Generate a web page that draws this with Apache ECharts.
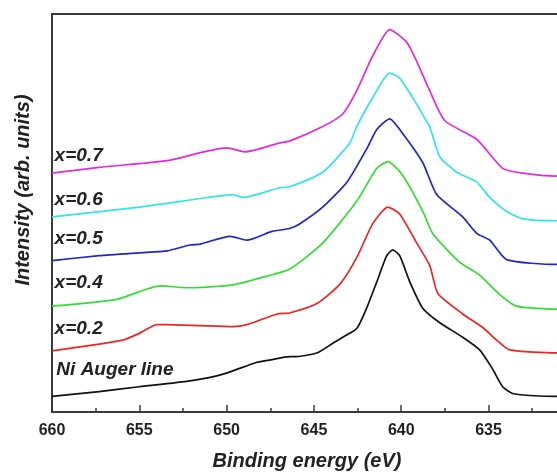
<!DOCTYPE html>
<html><head><meta charset="utf-8">
<script src="https://cdn.jsdelivr.net/npm/echarts@6/dist/echarts.min.js"></script>
<style>html,body{margin:0;padding:0;background:#fff}#c{width:557px;height:476px}</style>
</head><body><div id="c"></div>
<script>
// Binding energy (eV) / intensity (arb. units) pairs
const niAuger = [[660,16],[657.3,21],[655.0,26],[652.1,32],[650.2,39],[648.3,51],[647.4,54],[646.4,57],[646.0,57],[644.8,61],[643.9,71],[643.35,77],[642.55,86],[641.98,107],[641.4,134],[640.83,161],[640.49,167],[640.09,161],[639.51,134],[638.77,107],[637.79,92],[636.48,77],[635.51,64],[634.76,44],[634.19,26],[633.62,19],[632.64,17],[631.09,16],[630,16]];
const x02 = [[660,63],[657.3,70],[655.95,74],[655.0,81],[654.0,90],[653.4,90],[651.5,89],[649.65,88],[648.85,90],[647.1,101],[646.4,102],[644.8,112],[643.5,132],[642.55,159],[641.63,194],[640.77,211],[640.09,204],[639.11,174],[638.37,151],[637.9,122],[636.48,101],[635.33,87],[634.53,74],[633.79,64],[631.09,61],[630,61]];
const x04 = [[660,109],[656.3,116],[653.8,130],[652.3,128],[649.65,131],[647.7,140],[646.4,147],[644.5,174],[642.55,217],[641.4,251],[640.77,258],[639.92,244],[638.77,207],[638.2,184],[636.7,155],[635.51,141],[634.36,121],[633.39,109],[631.09,106],[630,106]];
const x05 = [[660,156],[657.3,161],[655.0,164],[653.4,166],[652.1,172],[651.5,173],[649.8,181],[648.85,177],[647.4,186],[646.4,189],[645.8,194],[644.5,211],[643.1,237],[641.98,271],[641.4,291],[640.66,302],[639.92,287],[638.77,257],[637.97,224],[636.48,201],[635.68,184],[634.93,177],[633.96,157],[631.09,152],[630,152]];
const x06 = [[660,201],[655.0,211],[651.1,221],[649.65,224],[649.08,221],[646.96,231],[646.4,232],[644.5,247],[642.95,277],[642.55,294],[641.63,324],[640.66,349],[640.09,344],[639.11,317],[638.7,304],[638.37,294],[637.79,263],[636.82,247],[635.68,237],[634.93,221],[634.0,207],[633.04,199],[631.09,197],[630,197]];
const x07 = [[660,246],[657.3,252],[653.4,259],[650.0,272],[648.96,268],[647.0,277],[646.4,279],[644.5,294],[643.35,307],[642.55,331],[641.63,367],[640.66,394],[639.69,381],[639.11,361],[638.37,331],[637.5,300],[635.68,281],[634.19,251],[633.04,246],[631.09,243],[630,243]];
const seriesNames = ['Ni Auger line','x=0.2','x=0.4','x=0.5','x=0.6','x=0.7'];
const seriesData = [niAuger, x02, x04, x05, x06, x07];
const colors = ['#111111','#ee2424','#33dd33','#2424c8','#33e4e4','#e02ce0'];
// label anchor positions (energy, intensity)
const labelPos = [[659.75,43],[659.85,86],[659.85,133],[659.85,178],[659.85,219],[659.85,264]];
const xTicks = [660,655,650,645,640,635];
const xMinorTicks = [657.5,652.5,647.5,642.5,637.5,632.5];
const xMin = 631.08, xMax = 660;

const chart = echarts.init(document.getElementById('c'));
const FONT = 'Arial, "Liberation Sans", sans-serif';
const AX = '#3a3a3a';
const option = {
  animation:false,
  grid:{left:52, top:14, bottom:52, right:0},
  xAxis:[
   {type:'value', inverse:true, min:xMin, max:xMax, position:'bottom',
    name:'Binding energy (eV)', nameLocation:'middle', nameGap:39,
    nameTextStyle:{fontFamily:FONT, fontSize:20, fontWeight:'bold', fontStyle:'italic', color:'#222', padding:[0,0,0,5]},
    axisLine:{show:true, lineStyle:{color:AX, width:2}},
    axisTick:{show:true, inside:true, length:7, customValues:xTicks, lineStyle:{color:AX, width:1.5}},
    axisLabel:{fontFamily:FONT, fontSize:16, fontWeight:'bold', color:'#222', margin:11, customValues:xTicks},
    splitLine:{show:false}},
   {type:'value', inverse:true, min:xMin, max:xMax, position:'bottom',
    axisLine:{show:false},
    axisTick:{show:true, inside:true, length:4, customValues:xMinorTicks, lineStyle:{color:AX, width:1.5}},
    axisLabel:{show:false}, splitLine:{show:false}},
   {type:'value', inverse:true, min:xMin, max:xMax, position:'top',
    axisLine:{show:true, lineStyle:{color:AX, width:2}},
    axisTick:{show:false}, axisLabel:{show:false}, splitLine:{show:false}}
  ],
  yAxis:{type:'value', min:0, max:410,
    name:'Intensity (arb. units)', nameLocation:'middle', nameGap:19,
    nameTextStyle:{fontFamily:FONT, fontSize:20, fontWeight:'bold', fontStyle:'italic', color:'#222', padding:[0,0,0,46]},
    axisLine:{show:true, lineStyle:{color:AX, width:2}},
    axisTick:{show:false}, axisLabel:{show:false}, splitLine:{show:false}},
  series: seriesNames.map((n,i)=>({name:n, type:'line', data:seriesData[i], showSymbol:false, smooth:0.2,
    xAxisIndex:0, lineStyle:{color:colors[i], width:1.7}, itemStyle:{color:colors[i]}, z:3}))
};
chart.setOption(option);
const gfx = seriesNames.map((n,i)=>{
  const p = chart.convertToPixel({xAxisIndex:0, yAxisIndex:0}, labelPos[i]);
  return {type:'text', x:p[0], y:p[1], style:{text:n, fill:'#222', font:'italic bold 19px '+FONT, textAlign:'left', textVerticalAlign:'middle'}, z:10};
});
chart.setOption({graphic:gfx});
</script></body></html>
